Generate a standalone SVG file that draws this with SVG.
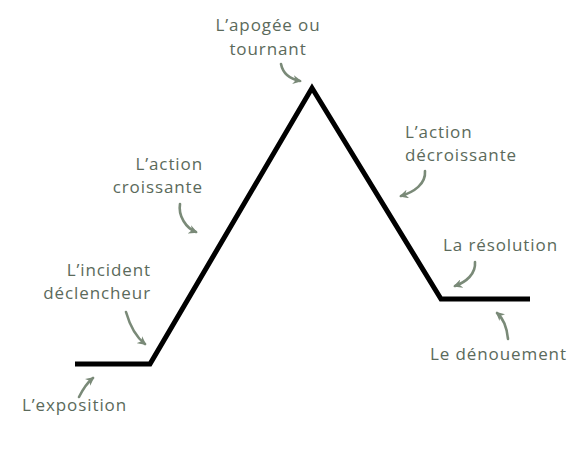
<svg xmlns="http://www.w3.org/2000/svg" width="580" height="454" viewBox="0 0 580 454">
<style>
.lbl{font-family:"Open Sans","Liberation Sans",sans-serif;font-size:17px;letter-spacing:0.9px;fill:#5b6a5b;}
.arr{fill:none;stroke:#7a8a78;stroke-width:2.6;stroke-linecap:round;marker-end:url(#ah);}
.plot{fill:none;stroke:#000;stroke-width:5;stroke-linejoin:miter;}
</style>
<defs>
<marker id="ah" viewBox="0 0 10 10" refX="8" refY="5" markerWidth="3.4" markerHeight="3.4" orient="auto" markerUnits="strokeWidth">
<path d="M0,0 L10,5 L0,10 L3,5 Z" fill="#7a8a78"/>
</marker>
</defs>
<rect width="580" height="454" fill="#fff"/>
<g id="plot"><path class="plot" d="M75,364 L150,364 L312,88 L441,299 L530,299"/></g>
<g id="connectors">
<path class="arr" d="M281,64 C283,74 290,79 300,81"/>
<path class="arr" d="M180,204 C178,216 186,228 196,232"/>
<path class="arr" d="M126,312 C130,326 136,337 145,344"/>
<path class="arr" d="M79,397 C83,389 88,382 93,378"/>
<path class="arr" d="M425,171 C426,184 414,192 401,196"/>
<path class="arr" d="M475,262 C476,274 466,282 455,286"/>
<path class="arr" d="M508,339 C507,328 504,319 497,313"/>
</g>
<g id="n-apogee"><text class="lbl" x="268" y="31" text-anchor="middle">L’apogée ou</text><text class="lbl" x="268" y="55" text-anchor="middle">tournant</text></g>
<g id="n-croissante"><text class="lbl" x="203" y="170" text-anchor="end">L’action</text><text class="lbl" x="203" y="193" text-anchor="end">croissante</text></g>
<g id="n-incident"><text class="lbl" x="151" y="276" text-anchor="end">L’incident</text><text class="lbl" x="151" y="299" text-anchor="end">déclencheur</text></g>
<g id="n-exposition"><text class="lbl" x="22" y="411">L’exposition</text></g>
<g id="n-decroissante"><text class="lbl" x="405" y="138">L’action</text><text class="lbl" x="405" y="161">décroissante</text></g>
<g id="n-resolution"><text class="lbl" x="443" y="251">La résolution</text></g>
<g id="n-denouement"><text class="lbl" x="430" y="360">Le dénouement</text></g>
</svg>
